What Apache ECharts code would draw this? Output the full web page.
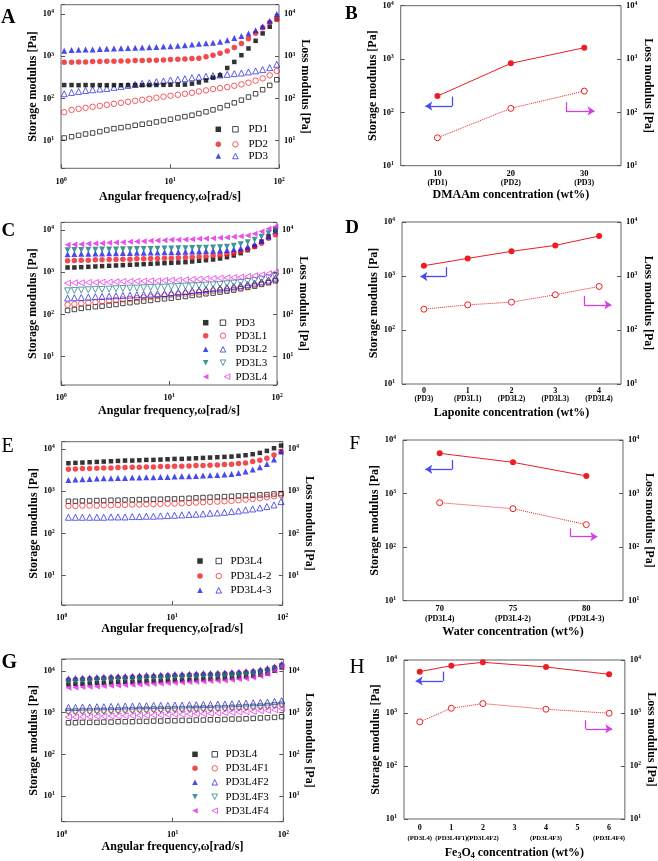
<!DOCTYPE html>
<html><head><meta charset="utf-8">
<script src="https://cdn.jsdelivr.net/npm/echarts@6/dist/echarts.min.js"></script>
<style>html,body{margin:0;padding:0;background:#fff}#c{width:658px;height:861px}</style>
</head><body><div id="c"></div>
<script>
// ---------------- DATA ----------------
// frequency sweeps (rad/s)
const omegaA = [1.07,1.25,1.45,1.68,1.95,2.27,2.63,3.06,3.55,4.12,4.79,5.56,6.46,7.50,8.71,10.1,11.8,13.7,15.9,18.4,21.4,24.8,28.8,33.5,38.9,45.2,52.5,61.0,70.8,82.2,95.5];
const omegaCEG = [1.15,1.33,1.54,1.79,2.08,2.40,2.79,3.23,3.74,4.35,5.04,5.83,6.76,7.83,9.08,10.5,12.2,14.2,16.4,19.0,22.0,25.6,29.7,34.4,39.8,46.1,53.5,62.1,71.9,83.4,96.6];

// Panel A
const A_PD1_storage = [208,208,206,208,207,207,206,207,206,206,207,207,208,209,210,211,212,213,224,240,268,311,353,527,733,1057,1525,2318,3467,4990,7460];
const A_PD1_loss = [11.6,12.4,13.4,14.4,15.2,16.4,17.9,19.3,20.4,21.5,23.2,24.5,25.9,27.8,29.9,32.2,34.7,37.2,40.1,44.0,48.2,53.7,60.0,68.1,78.8,91.2,108,129,161,204,278];
const A_PD2_storage = [720,720,733,733,747,747,760,760,774,774,789,789,803,803,818,833,849,864,880,896,975,1050,1180,1330,1600,2000,2600,3500,4700,6300,7600];
const A_PD2_loss = [47.3,53.7,56.7,60.0,63.4,66.9,70.7,74.7,78.9,83.4,88.0,93.0,98.2,104,110,116,122,129,136,147,155,167,176,186,200,215,236,264,299,353,448];
const A_PD3_storage = [1340,1404,1420,1443,1450,1475,1505,1524,1535,1565,1595,1607,1630,1660,1690,1728,1760,1828,1900,1975,2041,2080,2200,2400,2700,3000,3450,4100,5100,6900,10000];
const A_PD3_loss = [129,139,147,155,161,167,173,183,193,204,215,228,236,250,259,274,283,294,310,322,334,347,360,373,387,401,424,448,482,537,645];

// Panel C
const C_PD3_storage = [1288,1288,1312,1337,1362,1388,1413,1437,1463,1490,1517,1545,1574,1603,1633,1660,1690,1722,1787,1854,1919,1991,2104,2261,2477,2812,3311,4038,5297,7085,10000];
const C_PD3_loss = [124,131,139,146,152,157,166,172,182,189,199,207,214,226,234,243,257,266,281,292,308,319,337,356,376,404,434,467,512,560,624];
const C_PD3L1_storage = [1854,1888,1920,1920,1955,1955,1991,1991,2028,2028,2065,2065,2103,2103,2142,2142,2182,2218,2259,2301,2344,2432,2523,2663,2813,3079,3430,3963,4844,6357,7623];
const C_PD3L1_loss = [169,175,182,189,196,203,210,218,226,234,243,252,262,271,281,292,302,313,325,337,349,362,376,390,412,434,467,503,540,592,659];
const C_PD3L2_storage = [2661,2690,2710,2730,2750,2770,2790,2810,2830,2850,2870,2890,2910,2930,2950,2965,2990,3030,3070,3110,3160,3200,3250,3330,3491,3690,4036,4581,5495,6964,9466];
const C_PD3L2_loss = [243,248,252,257,262,266,271,276,281,286,292,297,302,308,313,325,337,349,362,376,390,404,419,434,459,484,512,550,592,647,721];
const C_PD3L3_storage = [3311,3330,3350,3370,3390,3410,3430,3450,3470,3490,3510,3530,3550,3570,3600,3622,3650,3680,3710,3750,3800,3850,3900,4000,4189,4581,5118,5806,6835,8337,10000];
const C_PD3L3_loss = [362,369,376,383,390,390,397,404,412,419,419,427,434,442,442,451,459,467,476,484,493,502,512,530,550,570,603,636,684,735,791];
const C_PD3L4_storage = [4426,4508,4586,4667,4753,4842,4932,5023,5117,5212,5297,5396,5495,5598,5702,5808,5808,5916,6026,6124,6237,6353,6471,6592,6839,7079,7345,8054,9141,10560,11990];
const C_PD3L4_loss = [550,560,560,570,570,580,580,592,603,603,613,613,624,624,636,647,647,659,671,684,697,708,721,735,748,762,791,819,865,914,982];

// Panel E
const E_PD3L4_storage = [4585,4668,4747,4833,4921,5011,5102,5195,5294,5294,5393,5492,5492,5585,5689,5794,5794,5902,6012,6124,6237,6353,6471,6580,6824,7079,7482,8035,8977,10370,11990];
const E_PD3L4_loss = [577,577,587,587,598,598,610,610,620,620,631,631,643,643,655,655,667,679,692,705,718,729,743,757,771,785,800,815,830,859,875];
const E_PD3L4_2_storage = [3304,3361,3422,3422,3483,3548,3548,3614,3614,3681,3681,3750,3750,3819,3819,3890,3890,3954,4027,4027,4102,4178,4256,4335,4498,4667,5011,5393,6012,7211,8650];
const E_PD3L4_2_loss = [447,447,455,455,455,463,463,472,472,481,481,490,490,499,508,508,516,526,536,546,556,566,577,587,610,631,655,679,718,757,815];
const E_PD3L4_3_storage = [1845,1879,1914,1950,1986,2018,2018,2056,2056,2094,2094,2133,2133,2173,2173,2213,2254,2254,2296,2339,2377,2421,2466,2559,2704,2904,3243,3681,4415,5585,8650];
const E_PD3L4_3_loss = [241,241,241,241,241,241,245,245,245,250,250,255,255,259,264,269,274,279,284,289,300,305,316,328,340,360,379,401,432,472,566];

// Panel G
const G_PD3L4_storage = [4786,4875,4966,5058,5152,5248,5346,5445,5546,5546,5649,5754,5754,5861,5970,6081,6081,6194,6310,6427,6546,6668,6792,6918,7178,7447,7727,8166,8790,10186,12246];
const G_PD3L4_loss = [575,575,586,586,586,597,597,608,608,608,619,619,631,631,643,643,655,655,667,667,679,679,692,705,705,718,731,745,759,773,802];
const G_PD3L4F1_storage = [6194,6310,6427,6546,6668,6792,6918,7047,7047,7178,7311,7447,7447,7586,7727,7870,7870,8017,8166,8318,8318,8472,8630,8790,8954,9290,9638,10186,10965,12246,13932];
const G_PD3L4F1_loss = [1096,1096,1117,1117,1138,1138,1159,1159,1180,1180,1202,1202,1225,1225,1225,1247,1247,1271,1271,1294,1294,1318,1318,1343,1368,1393,1419,1445,1472,1528,1585];
const G_PD3L4F2_storage = [6668,6792,6918,7047,7178,7311,7447,7586,7586,7727,7870,8017,8017,8166,8318,8472,8472,8630,8790,8954,8954,9120,9290,9462,9638,10000,10375,10965,11803,12942,14723];
const G_PD3L4F2_loss = [1343,1343,1368,1368,1393,1393,1419,1419,1445,1445,1472,1472,1500,1500,1500,1528,1528,1556,1556,1585,1585,1614,1614,1644,1675,1706,1738,1770,1803,1871,1941];
const G_PD3L4F3_storage = [5546,5649,5754,5861,5970,6081,6194,6310,6310,6427,6546,6668,6668,6792,6918,7047,7047,7178,7311,7447,7447,7586,7727,7870,8017,8318,8630,9120,9817,10965,12706];
const G_PD3L4F3_loss = [1038,1038,1057,1057,1076,1076,1096,1096,1117,1117,1138,1138,1159,1159,1159,1180,1180,1202,1202,1225,1225,1247,1247,1271,1294,1318,1343,1368,1419,1472,1528];
const G_PD3L4F4_storage = [3981,4055,4130,4207,4285,4365,4446,4529,4613,4699,4786,4875,4966,5058,5152,5248,5346,5445,5546,5649,5754,5861,5970,6194,6427,6668,7047,7586,8472,10186,12706];
const G_PD3L4F4_loss = [787,787,802,802,817,817,832,832,847,847,863,863,879,879,895,912,912,929,946,946,964,982,1000,1019,1038,1057,1076,1117,1138,1180,1247];

// Panel B
const B_conc = [10,20,30];
const B_names = ['(PD1)','(PD2)','(PD3)'];
const B_storage = [202,830,1630];
const B_loss = [33.4,119,251];
const B_ticks = [10,20,30];
// Panel D
const D_conc = [0,1,2,3,4];
const D_names = ['(PD3)','(PD3L1)','(PD3L2)','(PD3L3)','(PD3L4)'];
const D_storage = [1550,2120,2860,3690,5500];
const D_loss = [243,292,328,449,640];
const D_ticks = [0,1,2,3,4];
// Panel F
const F_conc = [70,75,80];
const F_names = ['(PD3L4)','(PD3L4-2)','(PD3L4-3)'];
const F_storage = [5640,3830,2130];
const F_loss = [676,522,263];
const F_ticks = [70,75,80];
// Panel H
const H_conc = [0,1,2,4,6];
const H_names = ['(PD3L4)','(PD3L4F1)','(PD3L4F2)','(PD3L4F3)','(PD3L4F4)'];
const H_storage = [6030,7820,9040,7380,5370];
const H_loss = [680,1230,1506,1178,990];
const H_ticks = [0,1,2,3,4,5,6];

// annotation arrows (data coords): [x of vertical, y top, y corner, x of arrow tip]
const B_arrowG1 = [12, 197, 131, 8.35];
const B_arrowG2 = [27.5, 155, 106, 31.4];
const D_arrowG1 = [0.5, 1460, 980, -0.08];
const D_arrowG2 = [3.65, 430, 292, 4.28];
const F_arrowG1 = [70.84, 4230, 2830, 69.02];
const F_arrowG2 = [78.93, 224, 157, 80.75];
const H_arrowG1 = [0.73, 6030, 4030, -0.13];
const H_arrowG2 = [5.26, 731, 502, 6.1];

// ---------------- STYLE / BUILD ----------------
const FF = 'Liberation Serif';
const RED = '#ee1d23', BLUE = '#1c1ce8', TEAL = '#137b7b', MAG = '#e526e5', BLK = '#000000';
const ARROW_BLUE = '#4a4af2', ARROW_MAG = '#d33ee6';

function supFmt(v) {
  const l = Math.log10(v), n = Math.round(l);
  if (Math.abs(l - n) > 1e-6) return '';
  return '{b|10}{e|' + n + '}';
}
const supRich = {
  b: {fontFamily: FF, fontWeight: 'bold', fontSize: 8.5, lineHeight: 10, color: '#000'},
  e: {fontFamily: FF, fontWeight: 'bold', fontSize: 5.5, lineHeight: 5, verticalAlign: 'top', color: '#000'}
};
const titleStyle = {fontFamily: FF, fontWeight: 'bold', fontSize: 12, color: '#000'};

const SHAPES = {
  sq: {symbol: 'rect', size: 4.5, rotate: 0, icon: 'rect'},
  ci: {symbol: 'circle', size: 5.5, rotate: 0, icon: 'circle'},
  up: {symbol: 'triangle', size: 6, rotate: 0, icon: 'triangle'},
  dn: {symbol: 'triangle', size: 6, rotate: 180, icon: 'path://M0,0L10,0L5,10Z'},
  lf: {symbol: 'triangle', size: 6, rotate: 90, icon: 'path://M10,0L10,10L0,5Z'}
};

const option = {animation: false, backgroundColor: '#fff', textStyle: {fontFamily: FF},
  grid: [], xAxis: [], yAxis: [], series: [], legend: [], graphic: []};

function frame(L) {
  return {left: L[0], top: L[1], width: L[2], height: L[3], show: true,
    borderColor: '#666', borderWidth: 1, backgroundColor: 'rgba(0,0,0,0)', containLabel: false};
}

function yAxes(gi, min, max, gl, gr) {
  const common = {type: 'log', logBase: 10, gridIndex: gi, min: min, max: max,
    axisLine: {show: false, onZero: false}, splitLine: {show: false},
    axisTick: {show: true, inside: true, length: 4, lineStyle: {color: '#555'}},
    nameLocation: 'middle', nameTextStyle: titleStyle};
  option.yAxis.push(Object.assign({}, common, {position: 'left', name: 'Storage modulus [Pa]',
    nameRotate: 90, nameGap: gl, axisLabel: {formatter: supFmt, rich: supRich, margin: 7}}));
  option.yAxis.push(Object.assign({}, common, {position: 'right', name: 'Loss modulus [Pa]',
    nameRotate: -90, nameGap: gr, axisLabel: {formatter: supFmt, rich: supRich, margin: 5}}));
}

function scatter(name, gi, yi, xs, ys, shape, color, filled) {
  const sh = SHAPES[shape];
  return {type: 'scatter', name: name, xAxisIndex: gi, yAxisIndex: yi,
    symbol: sh.symbol, symbolSize: sh.size, symbolRotate: sh.rotate,
    data: xs.map((x, j) => [x, ys[j]]),
    itemStyle: filled ? {color: color} : {color: 'rgba(255,255,255,0)', borderColor: color, borderWidth: 0.9},
    silent: true, animation: false};
}

function addLegendRow(label, fName, oName, y, fx, ox, tx, shape, color) {
  const iw = 5.5;
  const icon = SHAPES[shape].icon;
  const ts = {fontFamily: FF, fontSize: 11, color: '#000', lineHeight: 12};
  option.legend.push({
    left: fx - iw / 2, top: y - 6, padding: 0, orient: 'horizontal',
    itemWidth: iw, itemHeight: iw, itemGap: (ox - fx) - iw - 5,
    selectedMode: false,
    data: [
      {name: fName, icon: icon, textStyle: ts, itemStyle: {color: color, borderWidth: 0}},
      {name: oName, icon: icon, textStyle: ts, itemStyle: {color: 'rgba(255,255,255,0)', borderColor: color, borderWidth: 0.9}}
    ],
    formatter: n => (n === oName ? '{t|' + label + '}' : ''),
    textStyle: Object.assign({}, ts, {rich: {t: {fontFamily: FF, fontSize: 11, color: '#000', lineHeight: 12,
      padding: [0, 0, 0, Math.max(0, tx - (ox + iw / 2 + 5))]}}})
  });
}

function freqPanel(gi, L, ymin, ymax, omega, defs, rows, leg, gx, gl, gr) {
  option.grid.push(frame(L));
  option.xAxis.push({type: 'log', logBase: 10, gridIndex: gi, min: 1, max: 100,
    axisLine: {show: false, onZero: false}, splitLine: {show: false},
    axisTick: {show: true, inside: true, length: 4, lineStyle: {color: '#555'}},
    axisLabel: {formatter: supFmt, rich: supRich, margin: 8},
    name: 'Angular frequency,ω[rad/s]', nameLocation: 'middle', nameGap: gx, nameTextStyle: titleStyle});
  yAxes(gi, ymin, ymax, gl, gr);
  defs.forEach(d => {
    option.series.push(scatter(d.key + '|o', gi, 2 * gi + 1, omega, d.loss, d.shape, d.color, false));
  });
  defs.forEach(d => {
    option.series.push(scatter(d.key + '|f', gi, 2 * gi, omega, d.storage, d.shape, d.color, true));
  });
  defs.forEach((d, i) => addLegendRow(d.label, d.key + '|f', d.key + '|o', rows[i], leg.fx, d.ox || leg.ox, leg.tx, d.shape, d.color));
}

function arrowLine(a, color) {
  return {silent: true, animation: false, label: {show: false}, emphasis: {disabled: true},
    lineStyle: {color: color, width: 1.3, type: 'solid'}, symbolSize: 7,
    data: [
      [{coord: [a[0], a[1]], symbol: 'none'}, {coord: [a[0], a[2]], symbol: 'none'}],
      [{coord: [a[0], a[2]], symbol: 'none'}, {coord: [a[3], a[2]], symbol: 'arrow'}]
    ]};
}

function linePanel(gi, L, xr, ticks, xs, subs, st, lo, title, gx, fnt, gl, gr, arB, arM) {
  option.grid.push(frame(L));
  option.xAxis.push({type: 'value', gridIndex: gi, min: xr[0], max: xr[1], interval: xr[2],
    axisLine: {show: false, onZero: false}, splitLine: {show: false}, axisTick: {show: false},
    axisLabel: {margin: fnt.m, formatter: v => {
        const ti = ticks.findIndex(t => Math.abs(t - v) < 1e-6);
        if (ti < 0) return '';
        const di = xs.findIndex(t => Math.abs(t - v) < 1e-6);
        return '{n|' + ticks[ti] + '}' + (di >= 0 ? '\n{s|' + subs[di] + '}' : '');
      },
      rich: {n: {fontFamily: FF, fontWeight: 'bold', fontSize: fnt.n, lineHeight: fnt.lh, color: '#000'},
             s: {fontFamily: FF, fontWeight: 'bold', fontSize: fnt.s, lineHeight: fnt.lh, color: '#000'}}},
    name: title, nameLocation: 'middle', nameGap: gx,
    nameTextStyle: Object.assign({}, titleStyle, {rich: {
      t: {fontFamily: FF, fontWeight: 'bold', fontSize: 12, lineHeight: 14, color: '#000'},
      s: {fontFamily: FF, fontWeight: 'bold', fontSize: 8, lineHeight: 7, verticalAlign: 'bottom', color: '#000'}}})});
  yAxes(gi, 10, 10000, gl, gr);
  option.series.push({type: 'line', xAxisIndex: gi, yAxisIndex: 2 * gi + 1,
    data: xs.map((x, j) => [x, lo[j]]), symbol: 'circle', symbolSize: 6,
    itemStyle: {color: '#fff', borderColor: RED, borderWidth: 1},
    lineStyle: {color: RED, width: 1, type: 'dotted'}, silent: true,
    markLine: arrowLine(arM, ARROW_MAG)});
  option.series.push({type: 'line', xAxisIndex: gi, yAxisIndex: 2 * gi,
    data: xs.map((x, j) => [x, st[j]]), symbol: 'circle', symbolSize: 6,
    itemStyle: {color: RED}, lineStyle: {color: RED, width: 1}, silent: true,
    markLine: arrowLine(arB, ARROW_BLUE)});
}

// A
freqPanel(0, [61, 4.7, 218, 163.6], 2.22, 16600, omegaA, [
  {key: 'A-PD1', label: 'PD1', storage: A_PD1_storage, loss: A_PD1_loss, shape: 'sq', color: BLK},
  {key: 'A-PD2', label: 'PD2', storage: A_PD2_storage, loss: A_PD2_loss, shape: 'ci', color: RED},
  {key: 'A-PD3', label: 'PD3', storage: A_PD3_storage, loss: A_PD3_loss, shape: 'up', color: BLUE}
], [129.3, 144.3, 156], {fx: 218.3, ox: 235, tx: 248}, 23, 20, 20);

// B
linePanel(1, [400.7, 5.7, 220.3, 160], [5, 35, 5], B_ticks, B_conc, B_names, B_storage, B_loss,
  'DMAAm concentration (wt%)', 23, {n: 8.5, s: 8, lh: 9.5, m: 3}, 21.5, 21, B_arrowG1, B_arrowG2);

// C
freqPanel(2, [61, 222.3, 216, 162.7], 2.14, 15100, omegaCEG, [
  {key: 'C-PD3', label: 'PD3', storage: C_PD3_storage, loss: C_PD3_loss, shape: 'sq', color: BLK},
  {key: 'C-PD3L1', label: 'PD3L1', storage: C_PD3L1_storage, loss: C_PD3L1_loss, shape: 'ci', color: RED},
  {key: 'C-PD3L2', label: 'PD3L2', storage: C_PD3L2_storage, loss: C_PD3L2_loss, shape: 'up', color: BLUE},
  {key: 'C-PD3L3', label: 'PD3L3', storage: C_PD3L3_storage, loss: C_PD3L3_loss, shape: 'dn', color: TEAL},
  {key: 'C-PD3L4', label: 'PD3L4', storage: C_PD3L4_storage, loss: C_PD3L4_loss, shape: 'lf', color: MAG, ox: 226.7}
], [322.7, 335.7, 349.3, 362.7, 376.7], {fx: 205.7, ox: 222.5, tx: 235}, 20, 18, 18.5);

// D
linePanel(3, [402, 222, 219, 162], [-0.5, 4.5, 0.5], D_ticks, D_conc, D_names, D_storage, D_loss,
  'Laponite concentration (wt%)', 23, {n: 8, s: 7.5, lh: 8, m: 3}, 18, 21, D_arrowG1, D_arrowG2);

// E
freqPanel(4, [61.7, 441.7, 221, 163.3], 2.02, 14800, omegaCEG, [
  {key: 'E-PD3L4', label: 'PD3L4', storage: E_PD3L4_storage, loss: E_PD3L4_loss, shape: 'sq', color: BLK},
  {key: 'E-PD3L4-2', label: 'PD3L4-2', storage: E_PD3L4_2_storage, loss: E_PD3L4_2_loss, shape: 'ci', color: RED},
  {key: 'E-PD3L4-3', label: 'PD3L4-3', storage: E_PD3L4_3_storage, loss: E_PD3L4_3_loss, shape: 'up', color: BLUE}
], [561, 576, 590.3], {fx: 200, ox: 218.3, tx: 230}, 18, 18, 18);

// F
linePanel(5, [403, 440, 220, 160.7], [67.5, 82.5, 2.5], F_ticks, F_conc, F_names, F_storage, F_loss,
  'Water concentration (wt%)', 25, {n: 8.5, s: 8, lh: 10, m: 3}, 19, 19, F_arrowG1, F_arrowG2);

// G
freqPanel(6, [61.7, 659, 221.6, 162.7], 2.42, 19500, omegaCEG, [
  {key: 'G-PD3L4', label: 'PD3L4', storage: G_PD3L4_storage, loss: G_PD3L4_loss, shape: 'sq', color: BLK},
  {key: 'G-PD3L4F1', label: 'PD3L4F1', storage: G_PD3L4F1_storage, loss: G_PD3L4F1_loss, shape: 'ci', color: RED},
  {key: 'G-PD3L4F2', label: 'PD3L4F2', storage: G_PD3L4F2_storage, loss: G_PD3L4F2_loss, shape: 'up', color: BLUE},
  {key: 'G-PD3L4F3', label: 'PD3L4F3', storage: G_PD3L4F3_storage, loss: G_PD3L4F3_loss, shape: 'dn', color: TEAL},
  {key: 'G-PD3L4F4', label: 'PD3L4F4', storage: G_PD3L4F4_storage, loss: G_PD3L4F4_loss, shape: 'lf', color: MAG}
], [754.3, 768.3, 782.3, 796.7, 810.7], {fx: 195, ox: 214.3, tx: 225}, 19, 18, 17.5);

// H
linePanel(7, [404, 660, 221.7, 159.3], [-0.5, 6.5, 0.5], H_ticks, H_conc, H_names, H_storage, H_loss,
  '{t|Fe}{s|3}{t|O}{s|4}{t| concentration (wt%)}', 27, {n: 8, s: 6.7, lh: 11, m: 3}, 20, 16.5, H_arrowG1, H_arrowG2);

// panel letters
[['A', 8.3, 17.5, 'bold', 20], ['B', 351.3, 14.2, 'bold', 19], ['C', 8.3, 230.8, 'bold', 19],
 ['D', 352, 228.3, 'bold', 19], ['E', 7.5, 446.7, 'normal', 20], ['F', 354.7, 444.2, 'normal', 19],
 ['G', 9.2, 662.5, 'bold', 20], ['H', 357, 667.5, 'normal', 21]].forEach(p => {
  option.graphic.push({type: 'text', x: p[1], y: p[2], silent: true,
    style: {text: p[0], fontFamily: FF, fontWeight: p[3], fontSize: p[4], fill: '#000',
      align: 'center', verticalAlign: 'middle'}});
});

const chart = echarts.init(document.getElementById('c'), null, {renderer: 'canvas'});
chart.setOption(option);
</script></body></html>
